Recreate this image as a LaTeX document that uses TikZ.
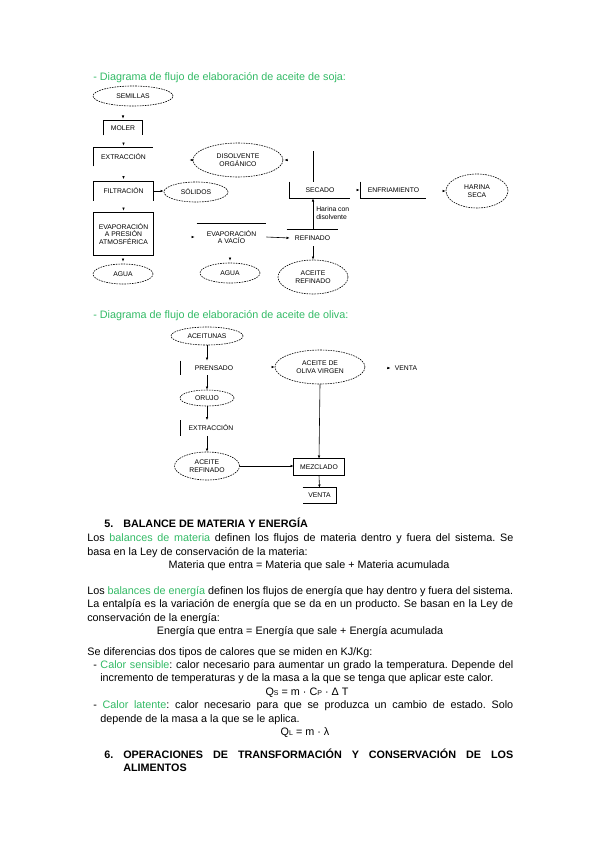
\documentclass[tikz,border=0pt]{standalone}
\usepackage{fontspec}
\setmainfont{Liberation Sans}
\usepackage{xcolor}
\usetikzlibrary{arrows.meta,shapes.geometric}
\definecolor{grn}{HTML}{33BB66}
\newcommand\diagfont{\fontsize{6.8}{7.6}\selectfont}
\newcommand\bodyfont{\fontsize{10.8}{12}\selectfont\frenchspacing}

\begin{document}
\begin{tikzpicture}[x=1pt,y=-1pt,line width=0.6pt,
    oval/.style={ellipse,draw,dash pattern=on 1.6pt off 1pt,inner sep=0pt,align=center,font=\diagfont},
    box/.style={inner sep=0pt,align=center,font=\diagfont},
    arr/.style={-{Latex[length=3.2pt,width=2.6pt]}},
    txt/.style={anchor=base west,inner sep=0pt,font=\bodyfont},
    ctr/.style={anchor=base,inner sep=0pt,font=\bodyfont}]
  \useasboundingbox[fill=white] (0,0) rectangle (599,848);

  % soja
  \node[txt,text=grn] (titsoja) at (93,81) {- Diagrama de flujo de elaboración de aceite de soja:};
  \node[oval,minimum width=80pt,minimum height=20pt] (semillas) at (133,96) {SEMILLAS};
  \node[box,minimum width=38pt,minimum height=14pt] (moler) at (123,128) {MOLER};
  \node[box,minimum width=59pt,minimum height=18pt] (extraccion) at (123.5,157) {EXTRACCIÓN};
  \node[oval,minimum width=90pt,minimum height=34pt] (disolvente) at (238,160) {DISOLVENTE\\ORGÁNICO};
  \node[box,minimum width=59pt,minimum height=19pt] (filtracion) at (123.5,191) {FILTRACIÓN};
  \node[oval,minimum width=64pt,minimum height=20pt] (solidos) at (196,192) {SÓLIDOS};
  \node[box,minimum width=59pt,minimum height=42pt] (evapatm) at (123.5,234) {EVAPORACIÓN\\A PRESIÓN\\ATMOSFÉRICA};
  \node[oval,minimum width=60pt,minimum height=20pt] (agua) at (123,274) {AGUA};
  \node[box,minimum width=69pt,minimum height=26pt] (evapvac) at (231.5,237) {EVAPORACIÓN\\A VACÍO};
  \node[oval,minimum width=60pt,minimum height=20pt] (aguab) at (230,273) {AGUA};
  \node[box,minimum width=51pt,minimum height=16pt] (refinado) at (312.5,238) {REFINADO};
  \node[oval,minimum width=70pt,minimum height=34pt] (aceiteref) at (313,277) {ACEITE\\REFINADO};
  \node[box,minimum width=60pt,minimum height=16pt] (secado) at (320,190) {SECADO};
  \node[box,minimum width=65pt,minimum height=16pt] (enfria) at (393.5,190) {ENFRIAMIENTO};
  \node[oval,minimum width=62pt,minimum height=34pt] (harina) at (477,191) {HARINA\\SECA};
  \node[box,anchor=west,align=left] (harinalbl) at (316,213) {Harina con\\disolvente};
  \coordinate (sectop) at (313,151);

  \draw (moler.south west) -- (moler.north west) -- (moler.north east) -- (moler.south east);
  \draw (extraccion.south west) -- (extraccion.north west) -- (extraccion.north east);
  \draw (filtracion.south west) -- (filtracion.north west) -- (filtracion.north east) -- (filtracion.south east);
  \draw (evapatm.south west) rectangle (evapatm.north east);
  \draw (evapvac.north west) -- (evapvac.north east);
  \draw (refinado.north west) -- (refinado.north east);
  \draw (secado.north west) -- (secado.south west) -- (secado.south east);
  \draw (enfria.north west) -- (enfria.south west) -- (enfria.south east);

  \draw[arr] ([yshift=5pt]moler.north) -- ([yshift=2pt]moler.north);
  \draw[arr] ([yshift=5pt]extraccion.north) -- ([yshift=2pt]extraccion.north);
  \draw[arr] ([yshift=5pt]filtracion.north) -- ([yshift=2pt]filtracion.north);
  \draw[arr] ([yshift=5pt]evapatm.north) -- ([yshift=2pt]evapatm.north);
  \draw[arr] ([yshift=5pt]agua.north) -- ([yshift=2pt]agua.north);
  \draw[arr] ([yshift=5pt]aguab.north) -- ([yshift=2pt]aguab.north);
  \draw[arr] (disolvente.west) -- ([xshift=-3.2pt]disolvente.west);
  \draw[arr] ([xshift=4.2pt]disolvente.east) -- ([xshift=1pt]disolvente.east);
  \draw[arr] (filtracion.east) -- (filtracion.east -| solidos.west);
  \draw[arr] ([xshift=-5.2pt]evapvac.west) -- ([xshift=-2pt]evapvac.west);
  \draw[arr] (evapvac.east) -- ([xshift=3pt]refinado.west);
  \draw[arr] (refinado.north -| sectop) -- (secado.south -| sectop);
  \draw[arr] (refinado.south -| sectop) -- (aceiteref.north);
  \draw (secado.north -| sectop) -- (sectop);
  \draw[arr] ([xshift=-4.2pt]enfria.west) -- ([xshift=-1pt]enfria.west);
  \draw[arr] ([xshift=-3.2pt]harina.west) -- (harina.west);

  % oliva
  \node[txt,text=grn] (titoliva) at (93,318) {- Diagrama de flujo de elaboración de aceite de oliva:};
  \node[oval,minimum width=72pt,minimum height=18pt] (aceitunas) at (207,336) {ACEITUNAS};
  \node[box,minimum width=66pt,minimum height=14pt] (prensado) at (214,368) {PRENSADO};
  \node[oval,minimum width=54pt,minimum height=16pt] (orujo) at (207,398) {ORUJO};
  \node[box,minimum width=60pt,minimum height=15pt] (extraccionb) at (211,428) {EXTRACCIÓN};
  \node[oval,minimum width=65pt,minimum height=28pt] (aceiterefb) at (207,466) {ACEITE\\REFINADO};
  \node[oval,minimum width=90pt,minimum height=34pt] (virgen) at (320,367) {ACEITE DE\\OLIVA VIRGEN};
  \node[box,inner sep=1pt] (ventab) at (406,368) {VENTA};
  \node[box,minimum width=50pt,minimum height=16pt] (mezclado) at (319,467) {MEZCLADO};
  \node[box,minimum width=33pt,minimum height=15pt] (venta) at (319.5,495.5) {VENTA};

  \draw (prensado.north west) -- (prensado.south west);
  \draw (extraccionb.north west) -- (extraccionb.south west);
  \draw (mezclado.south west) rectangle (mezclado.north east);
  \draw (venta.north west) -- (venta.north east) -- (venta.south east) -- (venta.south west);

  \draw[arr] (aceitunas.south) -- (aceitunas.south |- prensado.north);
  \draw[arr] (aceitunas.south |- prensado.south) -- (orujo.north);
  \draw[arr] (orujo.south) -- (orujo.south |- extraccionb.north);
  \draw[arr] (orujo.south |- extraccionb.south) -- (aceiterefb.north);
  \draw[arr] (aceiterefb.east) -- (aceiterefb.east -| mezclado.west);
  \draw[arr] (virgen.south) -- (mezclado.north);
  \draw[arr] (mezclado.south) -- (venta.north);
  \draw[arr] ([xshift=-3.2pt]virgen.west) -- (virgen.west);
  \draw[arr] ([xshift=-6.2pt]ventab.west) -- ([xshift=-3pt]ventab.west);

  % texto
  \node[txt] (num5) at (104,527) {\textbf{5.}};
  \node[txt] (sec5) at (123,527) {\textbf{BALANCE DE MATERIA Y ENERGÍA}};
  \node[txt] (p1) at (87,541) {\makebox[426pt][s]{Los \textcolor{grn}{balances de materia} definen los flujos de materia dentro y fuera del sistema. Se}};
  \node[txt] (p2) at (87,555) {basa en la Ley de conservación de la materia:};
  \node[ctr] (eq1) at (309,568) {Materia que entra = Materia que sale + Materia acumulada};
  \node[txt] (p3) at (87,594) {\makebox[426pt][s]{Los \textcolor{grn}{balances de energía} definen los flujos de energía que hay dentro y fuera del sistema.}};
  \node[txt] (p4) at (87,607) {\makebox[426pt][s]{La entalpía es la variación de energía que se da en un producto. Se basan en la Ley de}};
  \node[txt] (p5) at (87,621) {conservación de la energía:};
  \node[ctr] (eq2) at (300,634) {Energía que entra = Energía que sale + Energía acumulada};
  \node[txt] (p6) at (87,655) {Se diferencias dos tipos de calores que se miden en KJ/Kg:};
  \node[txt] (b1) at (93,668) {\makebox[420pt][s]{- \textcolor{grn}{Calor sensible}: calor necesario para aumentar un grado la temperatura. Depende del}};
  \node[txt] (b1b) at (100,681) {incremento de temperaturas y de la masa a la que se tenga que aplicar este calor.};
  \node[ctr] (eq3) at (307,695) {Q{\fontsize{7}{8}\selectfont S} = m · C{\fontsize{7}{8}\selectfont P} · Δ T};
  \node[txt] (b2) at (93,708) {\makebox[420pt][s]{- \textcolor{grn}{Calor latente}: calor necesario para que se produzca un cambio de estado. Solo}};
  \node[txt] (b2b) at (100,722) {depende de la masa a la que se le aplica.};
  \node[ctr] (eq4) at (305,735) {Q{\fontsize{7}{8}\selectfont L} = m · λ};
  \node[txt] (num6) at (104,758) {\textbf{6.}};
  \node[txt] (sec6) at (123,758) {\makebox[390pt][s]{\textbf{OPERACIONES DE TRANSFORMACIÓN Y CONSERVACIÓN DE LOS}}};
  \node[txt] (sec6b) at (123,771) {\textbf{ALIMENTOS}};
\end{tikzpicture}
\end{document}
